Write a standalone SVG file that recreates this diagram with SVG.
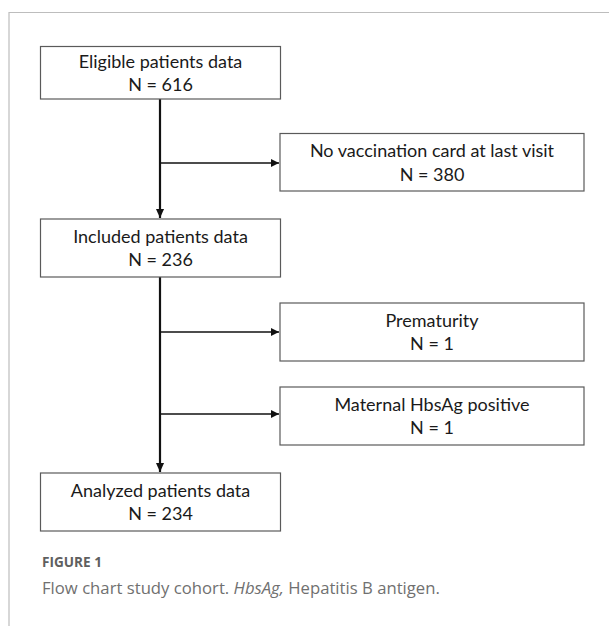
<svg xmlns="http://www.w3.org/2000/svg" width="609" height="626" viewBox="0 0 609 626">
<defs>
<style>
.box{fill:#fff;stroke:#5a5a5a;stroke-width:1.2}
.t{font-family:Lato,"Open Sans",sans-serif;font-size:18px;fill:#1a1a1a;text-anchor:middle}
.v{stroke:#111;stroke-width:2.2;fill:none}
.h{stroke:#111;stroke-width:1.4;fill:none}
.frame{stroke:#bdbdbd;stroke-width:1.2;fill:none}
</style>
<marker id="ah" viewBox="0 0 10 10" refX="10" refY="5" markerWidth="8" markerHeight="8" markerUnits="userSpaceOnUse" orient="auto">
<path d="M0,0 L10,5 L0,10 z" fill="#111"/>
</marker>
<marker id="av" viewBox="0 0 10 10" refX="10" refY="5" markerWidth="9" markerHeight="9" markerUnits="userSpaceOnUse" orient="auto">
<path d="M0,0.5 L10,5 L0,9.5 z" fill="#111"/>
</marker>
</defs>
<path class="frame" d="M9,626 V12.5 H609"/>
<g id="connectors">
<path class="v" d="M160,99 V218" marker-end="url(#av)"/>
<path class="v" d="M160,277 V472" marker-end="url(#av)"/>
<path class="h" d="M160,163 H279" marker-end="url(#ah)"/>
<path class="h" d="M160,332 H279" marker-end="url(#ah)"/>
<path class="h" d="M160,414 H279" marker-end="url(#ah)"/>
</g>
<g id="eligible">
<rect class="box" x="40.5" y="46.5" width="240" height="52.5"/>
<text class="t" x="160.5" y="68">Eligible patients data</text>
<text class="t" x="160.5" y="91">N = 616</text>
</g>
<g id="no-vaccination">
<rect class="box" x="280" y="133.5" width="304" height="57.5"/>
<text class="t" x="432" y="157">No vaccination card at last visit</text>
<text class="t" x="432" y="181">N = 380</text>
</g>
<g id="included">
<rect class="box" x="40.5" y="219" width="240" height="58"/>
<text class="t" x="160.5" y="243">Included patients data</text>
<text class="t" x="160.5" y="266">N = 236</text>
</g>
<g id="prematurity">
<rect class="box" x="280" y="303" width="304" height="58"/>
<text class="t" x="432" y="327">Prematurity</text>
<text class="t" x="432" y="350">N = 1</text>
</g>
<g id="maternal">
<rect class="box" x="280" y="387" width="304" height="58"/>
<text class="t" x="432" y="411">Maternal HbsAg positive</text>
<text class="t" x="432" y="434">N = 1</text>
</g>
<g id="analyzed">
<rect class="box" x="40.5" y="473" width="240" height="58"/>
<text class="t" x="160.5" y="497">Analyzed patients data</text>
<text class="t" x="160.5" y="520">N = 234</text>
</g>
<text x="42" y="567" font-family="'Open Sans',sans-serif" font-size="13.6" font-weight="bold" fill="#5f5f5f">FIGURE 1</text>
<text x="42" y="594" font-family="'Open Sans',sans-serif" font-size="16.7" fill="#707070">Flow chart study cohort. <tspan font-style="italic">HbsAg,</tspan> Hepatitis B antigen.</text>
</svg>
